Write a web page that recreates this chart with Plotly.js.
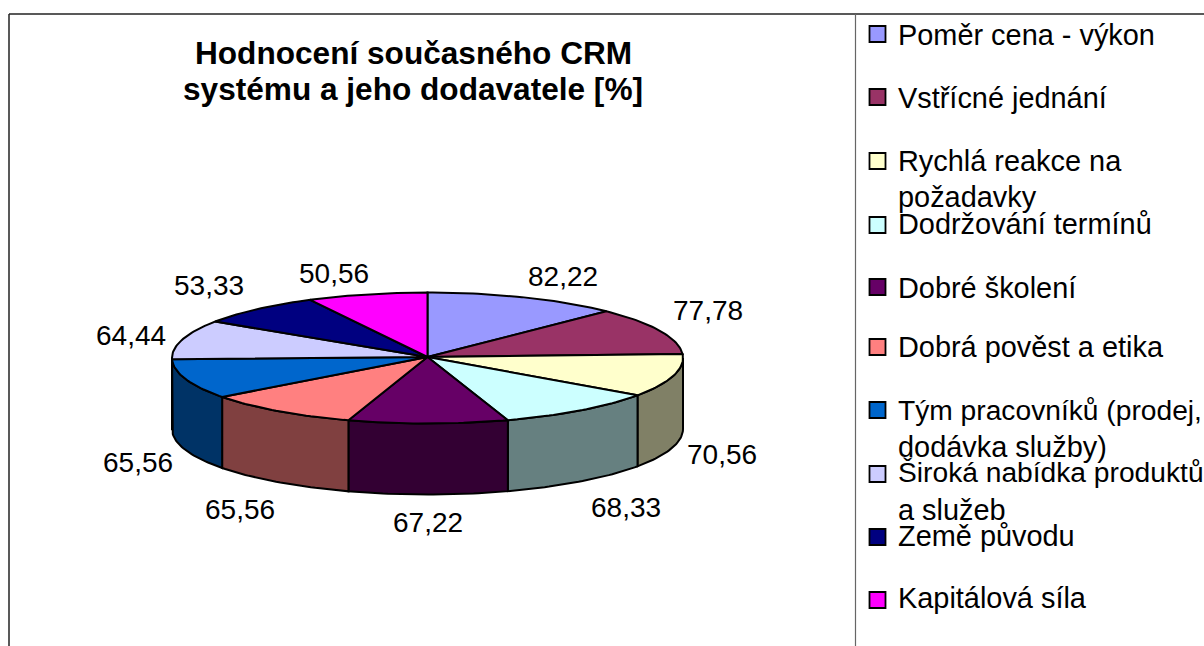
<!DOCTYPE html>
<html>
<head>
<meta charset="utf-8">
<script src="https://cdn.plot.ly/plotly-3.0.1.min.js"></script>
<style>html,body{margin:0;padding:0;background:#fff;overflow:hidden}#c{width:1204px;height:646px}</style>
</head>
<body>
<div id="c"></div>
<script>
const categories = ["Poměr cena - výkon","Vstřícné jednání","Rychlá reakce na požadavky","Dodržování termínů","Dobré školení","Dobrá pověst a etika","Tým pracovníků (prodej, dodávka služby)","Široká nabídka produktů a služeb","Země původu","Kapitálová síla"];
const values = [82.22,77.78,70.56,68.33,67.22,65.56,65.56,64.44,53.33,50.56];
const topColors = ["#9999FF","#993366","#FFFFCC","#CCFFFF","#660066","#FF8080","#0066CC","#CCCCFF","#000080","#FF00FF"];
const sideColors = ["#4D4D80","#4D1A33","#808066","#668080","#330033","#804040","#003366","#666680","#000040","#800080"];

// layout of the drawing (pixel space of the page)
const cx = 427.5, cy = 358, rx = 255.5, ry = 65.5, depth = 71;
const labelX = [563,708,722,626,428,240,138,131,209,334];
const labelY = [276,310,454,507,522,509,462,335,285,273];
const legendMarkerY = [34,97,161,225,287,347,410,474,537,600];
const legendLines = [
  [["Poměr cena - výkon",35,28.9]],
  [["Vstřícné jednání",98,28.9]],
  [["Rychlá reakce na",161,28.9],["požadavky",197,28.9]],
  [["Dodržování termínů",224,28.9]],
  [["Dobré školení",288,28.9]],
  [["Dobrá pověst a etika",347,28.9]],
  [["Tým pracovníků (prodej,",410,28.2],["dodávka služby)",447,28.9]],
  [["Široká nabídka produktů",472,28.2],["a služeb",510,28.9]],
  [["Země původu",536,28.9]],
  [["Kapitálová síla",598,28.9]]
];
const FONT = "Liberation Sans, Arial, sans-serif";
const LABEL_SIZE = 28, TITLE_SIZE = 31.6;

const total = values.reduce((a,b)=>a+b,0);
const px = a => cx + rx*Math.sin(a);
const py = a => cy - ry*Math.cos(a);
const arc = (a0,a1) => { const n = Math.max(2,Math.ceil(Math.abs(a1-a0)/0.02)); const r=[]; for(let i=0;i<=n;i++) r.push(a0+(a1-a0)*i/n); return r; };

let cum = 0;
const slices = values.map(v=>{ const a0 = cum/total*2*Math.PI; cum += v; return [a0, cum/total*2*Math.PI]; });

const data = [];
slices.forEach((s,i)=>{
  const a0 = Math.max(s[0],Math.PI/2), a1 = Math.min(s[1],1.5*Math.PI);
  if (a1<=a0) return;
  const pts = arc(a0,a1);
  const x = pts.map(px).concat(pts.slice().reverse().map(px));
  const y = pts.map(a=>py(a)).concat(pts.slice().reverse().map(a=>py(a)+depth));
  x.push(x[0]); y.push(y[0]);
  data.push({type:"scatter",mode:"lines",x,y,fill:"toself",fillcolor:sideColors[i],line:{color:"#000",width:2},hoverinfo:"skip",showlegend:false});
});
slices.forEach((s,i)=>{
  const pts = arc(s[0],s[1]);
  const x = [cx].concat(pts.map(px),[cx]);
  const y = [cy-1].concat(pts.map(py),[cy-1]);
  data.push({type:"scatter",mode:"lines",x,y,fill:"toself",fillcolor:topColors[i],line:{color:"#000",width:2},name:categories[i],hoverinfo:"name",showlegend:false});
});
data.push({type:"scatter",mode:"markers",x:categories.map(()=>877.5),y:legendMarkerY,
  marker:{symbol:"square",size:16,color:topColors,line:{color:"#000",width:1.8}},text:categories,hoverinfo:"text",showlegend:false});

const annotations = [];
const txt = (x,y,text,xanchor,size) => annotations.push({x,y,xref:"x",yref:"y",text,showarrow:false,xanchor,yanchor:"middle",borderpad:0,
  font:{family:FONT,size,color:"#000"}});
values.forEach((v,i)=>txt(labelX[i],labelY[i],v.toFixed(2).replace(".",","),"center",LABEL_SIZE));
legendLines.forEach(lines=>lines.forEach(l=>txt(897,l[1],l[0],"left",l[2])));
txt(413,53,"<b>Hodnocení současného CRM</b>","center",TITLE_SIZE);
txt(413,89,"<b>systému a jeho dodavatele [%]</b>","center",TITLE_SIZE);

const frame = (x0,y0,x1,y1,color,width)=>({type:"line",xref:"x",yref:"y",x0,y0,x1,y1,line:{color,width}});
const layout = {
  width:1204,height:646,margin:{l:0,r:0,t:0,b:0},paper_bgcolor:"#fff",plot_bgcolor:"#fff",showlegend:false,
  xaxis:{range:[0,1204],visible:false,fixedrange:true},
  yaxis:{range:[646,0],visible:false,fixedrange:true},
  shapes:[frame(9,14,1204,14,"#222",1.5),frame(9,14,9,646,"#222",1.5),frame(855.5,14,855.5,646,"#666",1.2)],
  annotations
};
Plotly.newPlot("c",data,layout,{displayModeBar:false});
</script>
</body>
</html>
